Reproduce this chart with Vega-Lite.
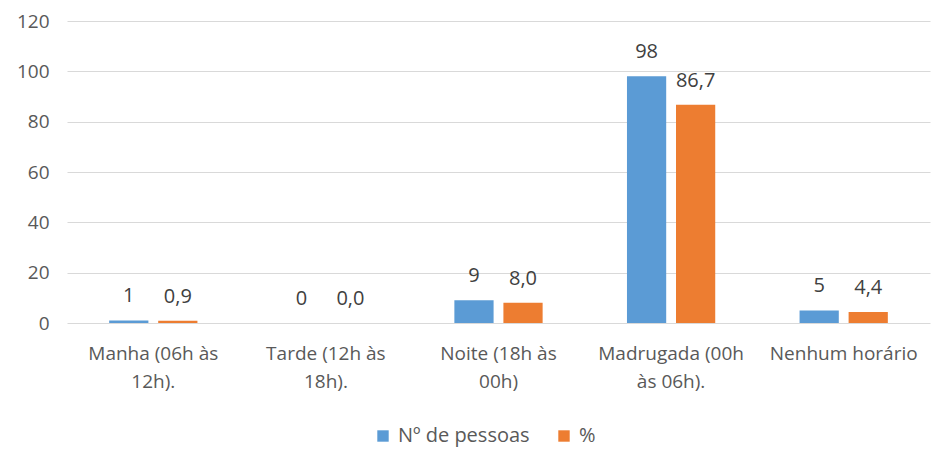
{
  "$schema": "https://vega.github.io/schema/vega-lite/v6.json",
  "width": 863,
  "height": 302,
  "autosize": {"type": "none"},
  "padding": {"left": 67, "top": 21, "right": 2, "bottom": 127},
  "background": "white",
  "config": {
    "view": {"stroke": null},
    "font": "Open Sans"
  },
  "data": {
    "values": [
      {"cat": "Manha (06h às 12h).", "serie": "Nº de pessoas", "valor": 1, "rotulo": "1"},
      {"cat": "Manha (06h às 12h).", "serie": "%", "valor": 0.9, "rotulo": "0,9"},
      {"cat": "Tarde (12h às 18h).", "serie": "Nº de pessoas", "valor": 0, "rotulo": "0"},
      {"cat": "Tarde (12h às 18h).", "serie": "%", "valor": 0.0, "rotulo": "0,0"},
      {"cat": "Noite (18h às 00h)", "serie": "Nº de pessoas", "valor": 9, "rotulo": "9"},
      {"cat": "Noite (18h às 00h)", "serie": "%", "valor": 8.0, "rotulo": "8,0"},
      {"cat": "Madrugada (00h às 06h).", "serie": "Nº de pessoas", "valor": 98, "rotulo": "98"},
      {"cat": "Madrugada (00h às 06h).", "serie": "%", "valor": 86.7, "rotulo": "86,7"},
      {"cat": "Nenhum horário", "serie": "Nº de pessoas", "valor": 5, "rotulo": "5"},
      {"cat": "Nenhum horário", "serie": "%", "valor": 4.4, "rotulo": "4,4"}
    ]
  },
  "encoding": {
    "x": {
      "field": "cat", "type": "nominal", "sort": null, "title": null,
      "scale": {"paddingInner": 0, "paddingOuter": 0},
      "axis": {
        "labelAngle": 0, "domain": false, "ticks": false, "grid": false,
        "labelFontSize": 19, "labelColor": "#595959", "labelPadding": 21,
        "labelLineHeight": 28, "labelFont": "Open Sans",
        "labelExpr": "datum.label == 'Manha (06h às 12h).' ? ['Manha (06h às', '12h).'] : datum.label == 'Tarde (12h às 18h).' ? ['Tarde (12h às', '18h).'] : datum.label == 'Noite (18h às 00h)' ? ['Noite (18h às', '00h)'] : datum.label == 'Madrugada (00h às 06h).' ? ['Madrugada (00h', 'às 06h).'] : datum.label"
      }
    },
    "xOffset": {
      "field": "serie", "type": "nominal", "sort": ["Nº de pessoas", "%"],
      "scale": {"paddingInner": 0.2, "paddingOuter": 0.86}
    },
    "y": {
      "field": "valor", "type": "quantitative", "title": null,
      "scale": {"domain": [0, 120]},
      "axis": {
        "values": [0, 20, 40, 60, 80, 100, 120],
        "domain": false, "ticks": false, "gridColor": "#d9d9d9", "gridWidth": 1,
        "labelFontSize": 19, "labelColor": "#595959", "labelPadding": 18
      }
    }
  },
  "layer": [
    {
      "mark": {"type": "bar"},
      "encoding": {
        "color": {
          "field": "serie", "type": "nominal", "sort": ["Nº de pessoas", "%"],
          "scale": {"domain": ["Nº de pessoas", "%"], "range": ["#5B9BD5", "#ED7D31"]},
          "legend": {
            "title": null, "orient": "none", "direction": "horizontal",
            "legendX": 306, "legendY": 405,
            "symbolType": "square", "symbolSize": 130, "symbolStrokeWidth": 0,
            "labelFontSize": 20, "labelColor": "#595959", "columnPadding": 24,
            "labelOffset": 5
          }
        }
      }
    },
    {
      "mark": {"type": "text", "baseline": "bottom", "dy": -14, "fontSize": 20, "color": "#404040"},
      "encoding": {
        "text": {"field": "rotulo"}
      }
    }
  ]
}
